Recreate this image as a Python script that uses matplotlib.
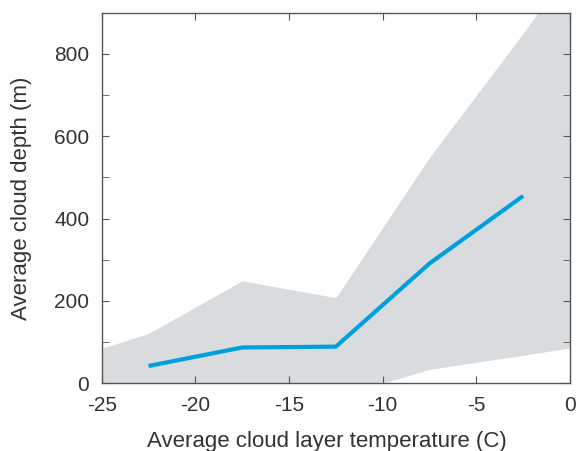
import matplotlib.pyplot as plt
import numpy as np
from matplotlib.ticker import MultipleLocator

plt.rcParams['font.family'] = ['Liberation Sans', 'DejaVu Sans']
plt.rcParams['axes.unicode_minus'] = False  # 用普通连字符作负号

# 温度分组中心及平均云厚
temp = [-22.5, -17.5, -12.5, -7.5, -2.5]
depth = [42, 87, 89, 291, 455]

# 阴影范围（含左右两端）
band_x = [-25, -22.5, -17.5, -12.5, -7.5, -2.5, 0]
band_hi = [85, 121, 249, 208, 549, 850, 1010]
band_lo = [-20, -40, -70, -34, 34, 68, 86]

txt = '#333333'
edge = '#555555'

fig = plt.figure(figsize=(5.79, 4.51), dpi=100)
ax = fig.add_axes([101.7 / 579, 1 - 383.3 / 451, (570 - 101.7) / 579, (383.3 - 12.7) / 451])

ax.fill_between(band_x, band_lo, band_hi, color='#d9dcdf', linewidth=0, zorder=1)
ax.plot(temp, depth, color='#00a0e0', linewidth=3, solid_capstyle='butt', zorder=3)

ax.set_xlim(-25, 0)
ax.set_ylim(0, 900)
ax.set_xticks([-25, -20, -15, -10, -5, 0])
ax.set_yticks([0, 200, 400, 600, 800])
ax.yaxis.set_minor_locator(MultipleLocator(100))

for s in ax.spines.values():
    s.set_color(edge)
    s.set_linewidth(1.0)
    s.set_zorder(5)

ax.tick_params(which='both', direction='in', top=True, right=True,
               color=edge, labelcolor=txt, labelsize=15, length=5)
ax.tick_params(axis='x', pad=9)
ax.tick_params(axis='y', pad=9)

ax.set_xlabel('Average cloud layer temperature (C)', fontsize=16, color=txt, labelpad=13)
ax.set_ylabel('Average cloud depth (m)', fontsize=16, color=txt, labelpad=16)
ax.xaxis.set_label_coords(0.48, -0.13)

fig.savefig('out.png', dpi=100, facecolor='white')
